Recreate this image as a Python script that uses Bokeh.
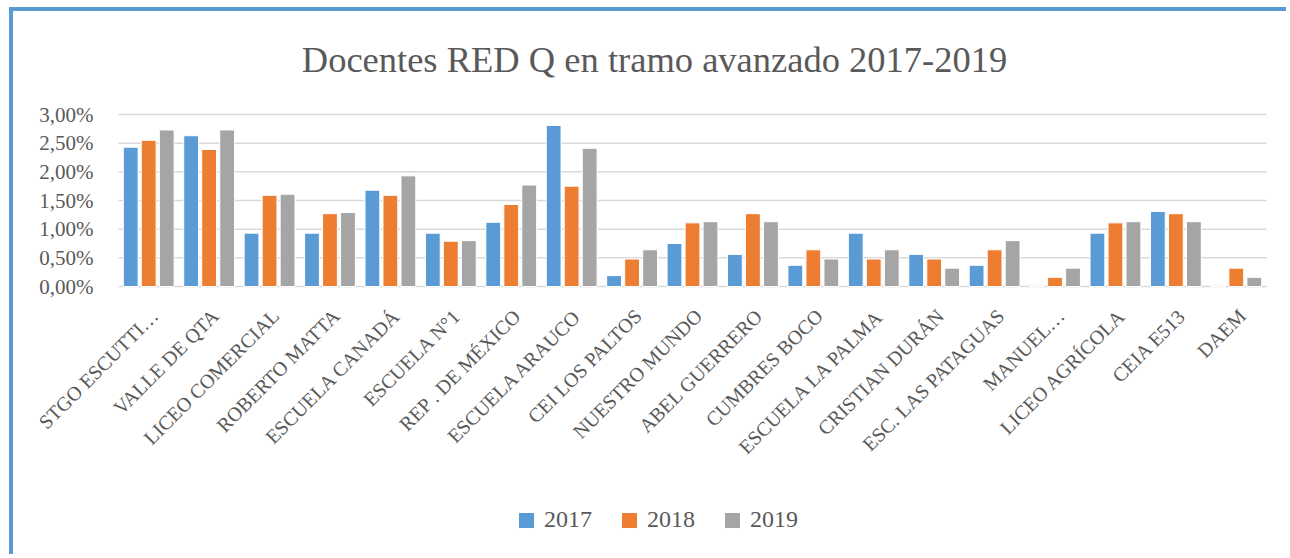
import math
import numpy as np
from bokeh.plotting import figure
from bokeh.models import Range1d, Legend, LegendItem, ColumnDataSource
from bokeh.core.properties import value
from bokeh.embed import file_html
from bokeh.resources import INLINE

categories = ["STGO ESCUTTI…", "VALLE DE QTA", "LICEO COMERCIAL", "ROBERTO MATTA",
              "ESCUELA CANADÁ", "ESCUELA N°1", "REP . DE MÉXICO", "ESCUELA ARAUCO",
              "CEI LOS PALTOS", "NUESTRO MUNDO", "ABEL GUERRERO", "CUMBRES BOCO",
              "ESCUELA LA PALMA", "CRISTIAN DURÁN", "ESC. LAS PATAGUAS", "MANUEL…",
              "LICEO AGRÍCOLA", "CEIA E513", "DAEM"]
v2017 = [2.43, 2.63, 0.93, 0.93, 1.68, 0.93, 1.12, 2.81, 0.19, 0.75, 0.56, 0.37,
         0.93, 0.56, 0.37, 0.0, 0.93, 1.31, 0.0]
v2018 = [2.55, 2.39, 1.59, 1.27, 1.59, 0.79, 1.43, 1.75, 0.48, 1.11, 1.27, 0.64,
         0.48, 0.48, 0.64, 0.16, 1.11, 1.27, 0.32]
v2019 = [2.73, 2.73, 1.61, 1.29, 1.93, 0.80, 1.77, 2.41, 0.64, 1.13, 1.13, 0.48,
         0.64, 0.32, 0.80, 0.32, 1.13, 1.13, 0.16]
y_ticks = [0, 0.5, 1.0, 1.5, 2.0, 2.5, 3.0]
y_tick_labels = ["0,00%", "0,50%", "1,00%", "1,50%", "2,00%", "2,50%", "3,00%"]
series = ["2017", "2018", "2019"]
colors = ["#5B9BD5", "#ED7D31", "#A5A5A5"]
title_text = "Docentes RED Q en tramo avanzado 2017-2019"

FONT = "Liberation Serif"
TXT = "#595959"
BORDER = "#5B9BD5"
GRID = "#D9D9D9"

# --- canvas geometry (pixels) ---
W, H = 1277, 547
PA_LEFT, PA_RIGHT = 105, 1253     # plot-area left/right inside the canvas
PA_TOP, PA_BOTTOM = 103, 275      # plot-area top (3 %) / bottom (0 %)
n = len(categories)
px_per_cat = (PA_RIGHT - PA_LEFT) / n
px_per_unit = (PA_BOTTOM - PA_TOP) / 3.0

x_range = Range1d(-PA_LEFT / px_per_cat, n + (W - PA_RIGHT) / px_per_cat)
y_range = Range1d(-(H - PA_BOTTOM) / px_per_unit, 3.0 + PA_TOP / px_per_unit)

p = figure(x_range=x_range, y_range=y_range, x_axis_location=None, y_axis_location=None,
           width=W, height=H, output_backend="svg", toolbar_location=None,
           min_border=0, margin=(7, 0, 0, 9))
p.styles = {"border-left": "4px solid " + BORDER, "border-top": "4px solid " + BORDER}
p.outline_line_color = None
p.grid.visible = False

centers = np.arange(n) + 0.5

# horizontal gridlines
p.segment(x0=0, x1=n, y0=y_ticks, y1=y_ticks, line_color=GRID, line_width=1.5)

# y tick labels
p.text(x=-25 / px_per_cat, y=y_ticks, text=y_tick_labels, text_align="right",
       text_baseline="middle", text_font=value(FONT), text_font_size="21px",
       text_color=TXT)

items = []
for off, vals, name, c in zip([-0.298, 0.0, 0.298], [v2017, v2018, v2019], series, colors):
    s = ColumnDataSource(dict(x=centers + off, top=vals))
    r = p.vbar(x="x", top="top", bottom=0, width=0.245, source=s,
               fill_color=c, line_color="white", line_width=1)
    items.append(LegendItem(label=name, renderers=[r]))

# category labels, rotated 45 degrees, hanging below the baseline
p.text(x=centers + 6 / px_per_cat, y=-26 / px_per_unit, text=categories,
       angle=math.pi / 4, text_align="right", text_baseline="middle",
       text_font=value(FONT), text_font_size="20px", text_color=TXT)

# chart title
p.text(x=[(641 - PA_LEFT) / px_per_cat], y=[3.0 + (PA_TOP - 48) / px_per_unit],
       text=[title_text], text_align="center", text_baseline="alphabetic",
       text_font=value(FONT), text_font_size="36.5px", text_color=TXT)

lg = Legend(items=items, location=(503, 25), orientation="horizontal")
lg.border_line_color = None
lg.background_fill_alpha = 0
lg.padding = 0
lg.margin = 0
lg.spacing = 27
lg.glyph_width = 20
lg.glyph_height = 20
lg.label_standoff = 8
lg.label_text_font = FONT
lg.label_text_font_size = "24px"
lg.label_text_color = TXT
p.add_layout(lg, "center")

open("out.html", "w").write(file_html(p, INLINE))
